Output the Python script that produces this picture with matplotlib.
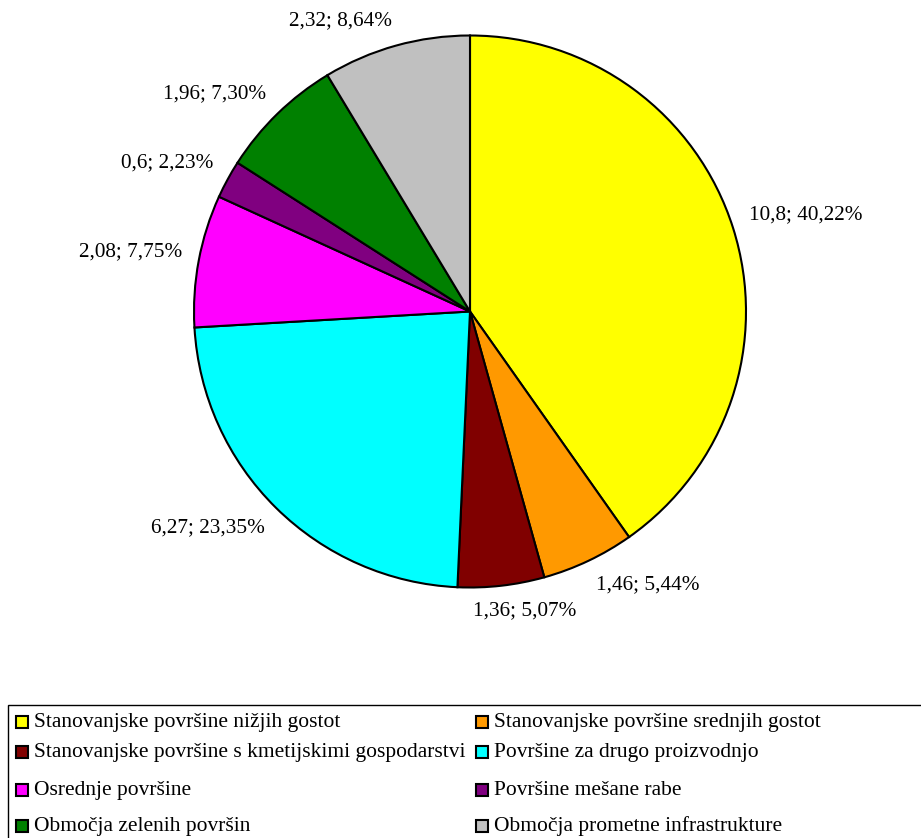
import numpy as np
import matplotlib
matplotlib.use("Agg")
import matplotlib.pyplot as plt
from matplotlib.patches import Rectangle
from matplotlib.transforms import offset_copy

categories = [
    "Stanovanjske površine nižjih gostot",
    "Stanovanjske površine srednjih gostot",
    "Stanovanjske površine s kmetijskimi gospodarstvi",
    "Površine za drugo proizvodnjo",
    "Osrednje površine",
    "Površine mešane rabe",
    "Območja zelenih površin",
    "Območja prometne infrastrukture",
]
values = [10.8, 1.46, 1.36, 6.27, 2.08, 0.6, 1.96, 2.32]
value_labels = ["10,8", "1,46", "1,36", "6,27", "2,08", "0,6", "1,96", "2,32"]
percent_labels = ["40,22%", "5,44%", "5,07%", "23,35%", "7,75%", "2,23%", "7,30%", "8,64%"]
colors = ["#FFFF00", "#FF9900", "#800000", "#00FFFF", "#FF00FF", "#800080", "#008000", "#C0C0C0"]

FONT = ["Liberation Serif", "DejaVu Serif"]
plt.rcParams["font.family"] = FONT

W, H = 921, 838
DPI = 100
fig = plt.figure(figsize=(W / DPI, H / DPI), dpi=DPI)

cx, cy, r = 470, 311.5, 276
pad = 1.02
side = 2 * r * pad
ax = fig.add_axes([(cx - side / 2) / W, (H - cy - side / 2) / H, side / W, side / H])
wedges, _ = ax.pie(values, colors=colors, startangle=90, counterclock=False, radius=1,
                   wedgeprops=dict(edgecolor="black", linewidth=1.5))
ax.set_xlim(-pad, pad)
ax.set_ylim(-pad, pad)
ax.set_aspect("equal")
ax.axis("off")

# data labels placed outside end, bbox touching circle
fig.canvas.draw()
renderer = fig.canvas.get_renderer()
Rl = 1.06
for wdg, v, p in zip(wedges, value_labels, percent_labels):
    ang = np.deg2rad((wdg.theta1 + wdg.theta2) / 2)
    u = np.array([np.cos(ang), np.sin(ang)])
    t = ax.text(Rl * u[0], Rl * u[1], f"{v}; {p}", ha="center", va="center",
                fontsize=15.3, color="black")
    bb = t.get_window_extent(renderer)
    a = np.clip(u * 3.7, -1, 1)
    t.set_transform(offset_copy(ax.transData, fig, x=a[0] * bb.width / 2,
                                y=a[1] * bb.height / 2 * 0.9, units="dots"))

# legend box
fig.patches.append(Rectangle((8 / W, -0.05), 1.05, (H - 705) / H + 0.05,
                             transform=fig.transFigure, fill=False,
                             edgecolor="black", linewidth=1.0))
row_y = [722, 752, 790, 826]
col_x = [16, 476]
msize = 12
for i, (name, c) in enumerate(zip(categories, colors)):
    row, col = divmod(i, 2)
    x0 = col_x[col]
    y0 = row_y[row]
    fig.patches.append(Rectangle((x0 / W, (H - y0 - msize / 2) / H), msize / W, msize / H,
                                 transform=fig.transFigure, facecolor=c,
                                 edgecolor="black", linewidth=1.5))
    fig.text((x0 + msize + 6) / W, (H - y0) / H, name, ha="left", va="center",
             fontsize=15.5, color="black")

fig.savefig("out.png", dpi=DPI)
